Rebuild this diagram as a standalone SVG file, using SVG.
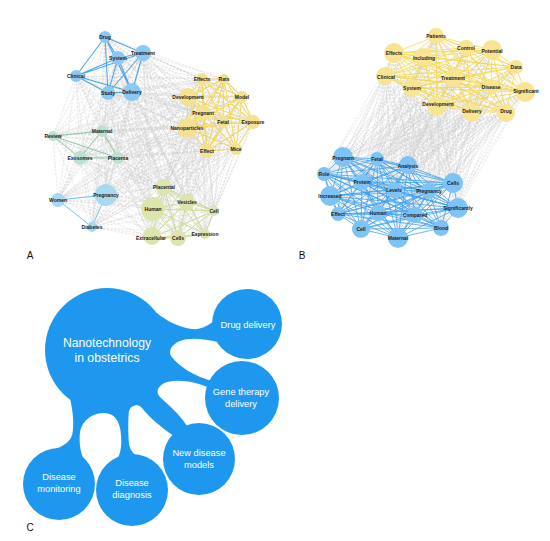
<svg xmlns="http://www.w3.org/2000/svg" width="550" height="541" viewBox="0 0 550 541">
<style>
.lbl{font-family:"Liberation Sans",Arial,Helvetica,sans-serif;font-weight:bold;font-size:5px;fill:#1a1a1a;text-anchor:middle}
.pl{font-family:"Liberation Sans",Arial,Helvetica,sans-serif;font-size:10px;fill:#111;text-anchor:middle}
.ct{font-family:"Liberation Sans",Arial,Helvetica,sans-serif;font-size:9.3px;fill:#fff;text-anchor:middle}
.cb{font-family:"Liberation Sans",Arial,Helvetica,sans-serif;font-size:12.2px;fill:#fff;text-anchor:middle}
.gry{fill:none;stroke:#bcbcbc;stroke-width:.45;stroke-dasharray:2.5 1.2;opacity:.75}
.eb{fill:none;stroke:#4ea7ec;stroke-width:1.1}
.ey{fill:none;stroke:#f3d85e;stroke-width:1.1}
.eg{fill:none;stroke:#8cc6a6;stroke-width:1}
.el{fill:none;stroke:#79c4e6;stroke-width:1}
.eo{fill:none;stroke:#cfdb92;stroke-width:1}
.eby{fill:none;stroke:#f5d649;stroke-width:.9;opacity:.85}
.ebb{fill:none;stroke:#3a9ff0;stroke-width:.9;opacity:.85}
.nb{fill:#8cc8f3}
.ny{fill:#f4e191}
.ng{fill:#bfe0cc}
.nl{fill:#a9d8ef}
.no{fill:#dde5ae}
.nby{fill:#f8e594}
.nbb{fill:#7ec3f5}
.blob{fill:#1e98ef}
</style>
<rect width="550" height="541" fill="#fff"/>
<g id="connectors">
<g id="a-gray" class="gry">
<path d="M105 37L202 79M105 37L224 79M105 37L188 97M105 37L242 97M105 37L203 113M105 37L223 122M105 37L253 122M105 37L187 128M105 37L207 151M105 37L236 149M105 37L53 136M105 37L102 131M105 37L80 158M105 37L118 158M105 37L58 200M105 37L106 195M105 37L92 227M105 37L164 187M105 37L187 202M105 37L153 209M105 37L214 211M105 37L151 238M105 37L178 238M105 37L205 234"/>
<path d="M118 58L202 79M118 58L224 79M118 58L188 97M118 58L242 97M118 58L203 113M118 58L223 122M118 58L253 122M118 58L187 128M118 58L207 151M118 58L236 149M118 58L53 136M118 58L102 131M118 58L80 158M118 58L118 158M118 58L58 200M118 58L106 195M118 58L92 227M118 58L164 187M118 58L187 202M118 58L153 209M118 58L214 211M118 58L151 238M118 58L178 238M118 58L205 234"/>
<path d="M143 53L202 79M143 53L224 79M143 53L188 97M143 53L242 97M143 53L203 113M143 53L223 122M143 53L253 122M143 53L187 128M143 53L207 151M143 53L236 149M143 53L53 136M143 53L102 131M143 53L80 158M143 53L118 158M143 53L58 200M143 53L106 195M143 53L92 227M143 53L164 187M143 53L187 202M143 53L153 209M143 53L214 211M143 53L151 238M143 53L178 238M143 53L205 234"/>
<path d="M76 76L202 79M76 76L224 79M76 76L188 97M76 76L242 97M76 76L203 113M76 76L223 122M76 76L253 122M76 76L187 128M76 76L207 151M76 76L236 149M76 76L53 136M76 76L102 131M76 76L80 158M76 76L118 158M76 76L58 200M76 76L106 195M76 76L92 227M76 76L164 187M76 76L187 202M76 76L153 209M76 76L214 211M76 76L151 238M76 76L178 238M76 76L205 234"/>
<path d="M108 93L202 79M108 93L224 79M108 93L188 97M108 93L242 97M108 93L203 113M108 93L223 122M108 93L253 122M108 93L187 128M108 93L207 151M108 93L236 149M108 93L53 136M108 93L102 131M108 93L80 158M108 93L118 158M108 93L58 200M108 93L106 195M108 93L92 227M108 93L164 187M108 93L187 202M108 93L153 209M108 93L214 211M108 93L151 238M108 93L178 238M108 93L205 234"/>
<path d="M132 92L202 79M132 92L224 79M132 92L188 97M132 92L242 97M132 92L203 113M132 92L223 122M132 92L253 122M132 92L187 128M132 92L207 151M132 92L236 149M132 92L53 136M132 92L102 131M132 92L80 158M132 92L118 158M132 92L58 200M132 92L106 195M132 92L92 227M132 92L164 187M132 92L187 202M132 92L153 209M132 92L214 211M132 92L151 238M132 92L178 238M132 92L205 234"/>
<path d="M202 79L53 136M202 79L102 131M202 79L80 158M202 79L118 158M202 79L58 200M202 79L106 195M202 79L92 227M202 79L164 187M202 79L187 202M202 79L153 209M202 79L214 211M202 79L151 238M202 79L178 238M202 79L205 234"/>
<path d="M224 79L53 136M224 79L102 131M224 79L80 158M224 79L118 158M224 79L58 200M224 79L106 195M224 79L92 227M224 79L164 187M224 79L187 202M224 79L153 209M224 79L214 211M224 79L151 238M224 79L178 238M224 79L205 234"/>
<path d="M188 97L53 136M188 97L102 131M188 97L80 158M188 97L118 158M188 97L58 200M188 97L106 195M188 97L92 227M188 97L164 187M188 97L187 202M188 97L153 209M188 97L214 211M188 97L151 238M188 97L178 238M188 97L205 234"/>
<path d="M242 97L53 136M242 97L102 131M242 97L80 158M242 97L118 158M242 97L58 200M242 97L106 195M242 97L92 227M242 97L164 187M242 97L187 202M242 97L153 209M242 97L214 211M242 97L151 238M242 97L178 238M242 97L205 234"/>
<path d="M203 113L53 136M203 113L102 131M203 113L80 158M203 113L118 158M203 113L58 200M203 113L106 195M203 113L92 227M203 113L164 187M203 113L187 202M203 113L153 209M203 113L214 211M203 113L151 238M203 113L178 238M203 113L205 234"/>
<path d="M223 122L53 136M223 122L102 131M223 122L80 158M223 122L118 158M223 122L58 200M223 122L106 195M223 122L92 227M223 122L164 187M223 122L187 202M223 122L153 209M223 122L214 211M223 122L151 238M223 122L178 238M223 122L205 234"/>
<path d="M253 122L53 136M253 122L102 131M253 122L80 158M253 122L118 158M253 122L58 200M253 122L106 195M253 122L92 227M253 122L164 187M253 122L187 202M253 122L153 209M253 122L214 211M253 122L151 238M253 122L178 238M253 122L205 234"/>
<path d="M187 128L53 136M187 128L102 131M187 128L80 158M187 128L118 158M187 128L58 200M187 128L106 195M187 128L92 227M187 128L164 187M187 128L187 202M187 128L153 209M187 128L214 211M187 128L151 238M187 128L178 238M187 128L205 234"/>
<path d="M207 151L53 136M207 151L102 131M207 151L80 158M207 151L118 158M207 151L58 200M207 151L106 195M207 151L92 227M207 151L164 187M207 151L187 202M207 151L153 209M207 151L214 211M207 151L151 238M207 151L178 238M207 151L205 234"/>
<path d="M236 149L53 136M236 149L102 131M236 149L80 158M236 149L118 158M236 149L58 200M236 149L106 195M236 149L92 227M236 149L164 187M236 149L187 202M236 149L153 209M236 149L214 211M236 149L151 238M236 149L178 238M236 149L205 234"/>
<path d="M53 136L58 200M53 136L106 195M53 136L92 227M53 136L164 187M53 136L187 202M53 136L153 209M53 136L214 211M53 136L151 238M53 136L178 238M53 136L205 234"/>
<path d="M102 131L58 200M102 131L106 195M102 131L92 227M102 131L164 187M102 131L187 202M102 131L153 209M102 131L214 211M102 131L151 238M102 131L178 238M102 131L205 234"/>
<path d="M80 158L58 200M80 158L106 195M80 158L92 227M80 158L164 187M80 158L187 202M80 158L153 209M80 158L214 211M80 158L151 238M80 158L178 238M80 158L205 234"/>
<path d="M118 158L58 200M118 158L106 195M118 158L92 227M118 158L164 187M118 158L187 202M118 158L153 209M118 158L214 211M118 158L151 238M118 158L178 238M118 158L205 234"/>
<path d="M58 200L164 187M58 200L187 202M58 200L153 209M58 200L214 211M58 200L151 238M58 200L178 238M58 200L205 234M106 195L164 187M106 195L187 202M106 195L153 209M106 195L214 211M106 195L151 238M106 195L178 238M106 195L205 234M92 227L164 187M92 227L187 202M92 227L153 209M92 227L214 211M92 227L151 238M92 227L178 238M92 227L205 234"/>
</g>
<g id="b-gray" class="gry">
<path d="M436 36L343 157M436 36L377 159M436 36L408 166M436 36L324 174M436 36L362 182M436 36L453 183M436 36L394 190M436 36L429 191M436 36L330 196M436 36L458 208M436 36L338 214M436 36L378 213M436 36L415 215M436 36L361 229M436 36L441 228M436 36L398 238"/>
<path d="M394 53L343 157M394 53L377 159M394 53L408 166M394 53L324 174M394 53L362 182M394 53L453 183M394 53L394 190M394 53L429 191M394 53L330 196M394 53L458 208M394 53L338 214M394 53L378 213M394 53L415 215M394 53L361 229M394 53L441 228M394 53L398 238"/>
<path d="M423 57L343 157M423 57L377 159M423 57L408 166M423 57L324 174M423 57L362 182M423 57L453 183M423 57L394 190M423 57L429 191M423 57L330 196M423 57L458 208M423 57L338 214M423 57L378 213M423 57L415 215M423 57L361 229M423 57L441 228M423 57L398 238"/>
<path d="M466 48L343 157M466 48L377 159M466 48L408 166M466 48L324 174M466 48L362 182M466 48L453 183M466 48L394 190M466 48L429 191M466 48L330 196M466 48L458 208M466 48L338 214M466 48L378 213M466 48L415 215M466 48L361 229M466 48L441 228M466 48L398 238"/>
<path d="M492 50L343 157M492 50L377 159M492 50L408 166M492 50L324 174M492 50L362 182M492 50L453 183M492 50L394 190M492 50L429 191M492 50L330 196M492 50L458 208M492 50L338 214M492 50L378 213M492 50L415 215M492 50L361 229M492 50L441 228M492 50L398 238"/>
<path d="M516 67L343 157M516 67L377 159M516 67L408 166M516 67L324 174M516 67L362 182M516 67L453 183M516 67L394 190M516 67L429 191M516 67L330 196M516 67L458 208M516 67L338 214M516 67L378 213M516 67L415 215M516 67L361 229M516 67L441 228M516 67L398 238"/>
<path d="M385 76L343 157M385 76L377 159M385 76L408 166M385 76L324 174M385 76L362 182M385 76L453 183M385 76L394 190M385 76L429 191M385 76L330 196M385 76L458 208M385 76L338 214M385 76L378 213M385 76L415 215M385 76L361 229M385 76L441 228M385 76L398 238"/>
<path d="M453 78L343 157M453 78L377 159M453 78L408 166M453 78L324 174M453 78L362 182M453 78L453 183M453 78L394 190M453 78L429 191M453 78L330 196M453 78L458 208M453 78L338 214M453 78L378 213M453 78L415 215M453 78L361 229M453 78L441 228M453 78L398 238"/>
<path d="M412 88L343 157M412 88L377 159M412 88L408 166M412 88L324 174M412 88L362 182M412 88L453 183M412 88L394 190M412 88L429 191M412 88L330 196M412 88L458 208M412 88L338 214M412 88L378 213M412 88L415 215M412 88L361 229M412 88L441 228M412 88L398 238"/>
<path d="M491 87L343 157M491 87L377 159M491 87L408 166M491 87L324 174M491 87L362 182M491 87L453 183M491 87L394 190M491 87L429 191M491 87L330 196M491 87L458 208M491 87L338 214M491 87L378 213M491 87L415 215M491 87L361 229M491 87L441 228M491 87L398 238"/>
<path d="M525 92L343 157M525 92L377 159M525 92L408 166M525 92L324 174M525 92L362 182M525 92L453 183M525 92L394 190M525 92L429 191M525 92L330 196M525 92L458 208M525 92L338 214M525 92L378 213M525 92L415 215M525 92L361 229M525 92L441 228M525 92L398 238"/>
<path d="M437 105L343 157M437 105L377 159M437 105L408 166M437 105L324 174M437 105L362 182M437 105L453 183M437 105L394 190M437 105L429 191M437 105L330 196M437 105L458 208M437 105L338 214M437 105L378 213M437 105L415 215M437 105L361 229M437 105L441 228M437 105L398 238"/>
<path d="M472 112L343 157M472 112L377 159M472 112L408 166M472 112L324 174M472 112L362 182M472 112L453 183M472 112L394 190M472 112L429 191M472 112L330 196M472 112L458 208M472 112L338 214M472 112L378 213M472 112L415 215M472 112L361 229M472 112L441 228M472 112L398 238"/>
<path d="M506 112L343 157M506 112L377 159M506 112L408 166M506 112L324 174M506 112L362 182M506 112L453 183M506 112L394 190M506 112L429 191M506 112L330 196M506 112L458 208M506 112L338 214M506 112L378 213M506 112L415 215M506 112L361 229M506 112L441 228M506 112L398 238"/>
</g>
<path id="a-edges-blue" class="eb" d="M105 37L118 58M105 37L143 53M105 37L76 76M105 37L108 93M105 37L132 92M118 58L143 53M118 58L76 76M118 58L108 93M118 58L132 92M143 53L76 76M143 53L108 93M143 53L132 92M76 76L108 93M76 76L132 92M108 93L132 92"/>
<path id="a-edges-yellow" class="ey" d="M202 79L224 79M202 79L188 97M202 79L242 97M202 79L203 113M202 79L223 122M202 79L253 122M202 79L187 128M202 79L207 151M202 79L236 149M224 79L188 97M224 79L242 97M224 79L203 113M224 79L223 122M224 79L253 122M224 79L187 128M224 79L207 151M224 79L236 149M188 97L242 97M188 97L203 113M188 97L223 122M188 97L253 122M188 97L187 128M188 97L207 151M188 97L236 149M242 97L203 113M242 97L223 122M242 97L253 122M242 97L187 128M242 97L207 151M242 97L236 149M203 113L223 122M203 113L253 122M203 113L187 128M203 113L207 151M203 113L236 149M223 122L253 122M223 122L187 128M223 122L207 151M223 122L236 149M253 122L187 128M253 122L207 151M253 122L236 149M187 128L207 151M187 128L236 149M207 151L236 149"/>
<path id="a-edges-green" class="eg" d="M53 136L102 131M53 136L80 158M53 136L118 158M102 131L80 158M102 131L118 158M80 158L118 158"/>
<path id="a-edges-lightblue" class="el" d="M58 200L106 195M58 200L92 227M106 195L92 227"/>
<path id="a-edges-olive" class="eo" d="M164 187L187 202M164 187L153 209M164 187L214 211M164 187L151 238M164 187L178 238M164 187L205 234M187 202L153 209M187 202L214 211M187 202L151 238M187 202L178 238M187 202L205 234M153 209L214 211M153 209L151 238M153 209L178 238M153 209L205 234M214 211L151 238M214 211L178 238M214 211L205 234M151 238L178 238M151 238L205 234M178 238L205 234"/>
<path id="b-edges-yellow" class="eby" d="M436 36L394 53M436 36L423 57M436 36L466 48M436 36L492 50M436 36L516 67M436 36L385 76M436 36L453 78M436 36L412 88M436 36L491 87M436 36L525 92M436 36L437 105M436 36L472 112M436 36L506 112M394 53L423 57M394 53L466 48M394 53L492 50M394 53L516 67M394 53L385 76M394 53L453 78M394 53L412 88M394 53L491 87M394 53L525 92M394 53L437 105M394 53L472 112M394 53L506 112M423 57L466 48M423 57L492 50M423 57L516 67M423 57L385 76M423 57L453 78M423 57L412 88M423 57L491 87M423 57L525 92M423 57L437 105M423 57L472 112M423 57L506 112M466 48L492 50M466 48L516 67M466 48L385 76M466 48L453 78M466 48L412 88M466 48L491 87M466 48L525 92M466 48L437 105M466 48L472 112M466 48L506 112M492 50L516 67M492 50L385 76M492 50L453 78M492 50L412 88M492 50L491 87M492 50L525 92M492 50L437 105M492 50L472 112M492 50L506 112M516 67L385 76M516 67L453 78M516 67L412 88M516 67L491 87M516 67L525 92M516 67L437 105M516 67L472 112M516 67L506 112M385 76L453 78M385 76L412 88M385 76L491 87M385 76L525 92M385 76L437 105M385 76L472 112M385 76L506 112M453 78L412 88M453 78L491 87M453 78L525 92M453 78L437 105M453 78L472 112M453 78L506 112M412 88L491 87M412 88L525 92M412 88L437 105M412 88L472 112M412 88L506 112M491 87L525 92M491 87L437 105M491 87L472 112M491 87L506 112M525 92L437 105M525 92L472 112M525 92L506 112M437 105L472 112M437 105L506 112M472 112L506 112"/>
<path id="b-edges-blue" class="ebb" d="M343 157L377 159M343 157L408 166M343 157L324 174M343 157L362 182M343 157L453 183M343 157L394 190M343 157L429 191M343 157L330 196M343 157L458 208M343 157L338 214M343 157L378 213M343 157L415 215M343 157L361 229M343 157L441 228M343 157L398 238M377 159L408 166M377 159L324 174M377 159L362 182M377 159L453 183M377 159L394 190M377 159L429 191M377 159L330 196M377 159L458 208M377 159L338 214M377 159L378 213M377 159L415 215M377 159L361 229M377 159L441 228M377 159L398 238M408 166L324 174M408 166L362 182M408 166L453 183M408 166L394 190M408 166L429 191M408 166L330 196M408 166L458 208M408 166L338 214M408 166L378 213M408 166L415 215M408 166L361 229M408 166L441 228M408 166L398 238M324 174L362 182M324 174L453 183M324 174L394 190M324 174L429 191M324 174L330 196M324 174L458 208M324 174L338 214M324 174L378 213M324 174L415 215M324 174L361 229M324 174L441 228M324 174L398 238M362 182L453 183M362 182L394 190M362 182L429 191M362 182L330 196M362 182L458 208M362 182L338 214M362 182L378 213M362 182L415 215M362 182L361 229M362 182L441 228M362 182L398 238M453 183L394 190M453 183L429 191M453 183L330 196M453 183L458 208M453 183L338 214M453 183L378 213M453 183L415 215M453 183L361 229M453 183L441 228M453 183L398 238M394 190L429 191M394 190L330 196M394 190L458 208M394 190L338 214M394 190L378 213M394 190L415 215M394 190L361 229M394 190L441 228M394 190L398 238M429 191L330 196M429 191L458 208M429 191L338 214M429 191L378 213M429 191L415 215M429 191L361 229M429 191L441 228M429 191L398 238M330 196L458 208M330 196L338 214M330 196L378 213M330 196L415 215M330 196L361 229M330 196L441 228M330 196L398 238M458 208L338 214M458 208L378 213M458 208L415 215M458 208L361 229M458 208L441 228M458 208L398 238M338 214L378 213M338 214L415 215M338 214L361 229M338 214L441 228M338 214L398 238M378 213L415 215M378 213L361 229M378 213L441 228M378 213L398 238M415 215L361 229M415 215L441 228M415 215L398 238M361 229L441 228M361 229L398 238M441 228L398 238"/>
</g>
<g id="panel-a-nodes">
<g id="a-drug"><circle class="nb" cx="105" cy="37" r="6"/><text class="lbl" x="105" y="38.8">Drug</text></g>
<g id="a-system"><circle class="nb" cx="118" cy="58" r="7"/><text class="lbl" x="118" y="59.8">System</text></g>
<g id="a-treatment"><circle class="nb" cx="143" cy="53" r="8"/><text class="lbl" x="143" y="54.8">Treatment</text></g>
<g id="a-clinical"><circle class="nb" cx="76" cy="76" r="6"/><text class="lbl" x="76" y="77.8">Clinical</text></g>
<g id="a-study"><circle class="nb" cx="108" cy="93" r="7"/><text class="lbl" x="108" y="94.8">Study</text></g>
<g id="a-delivery"><circle class="nb" cx="132" cy="92" r="9"/><text class="lbl" x="132" y="93.8">Delivery</text></g>
<g id="a-effects"><circle class="ny" cx="202" cy="79" r="6"/><text class="lbl" x="202" y="80.8">Effects</text></g>
<g id="a-rats"><circle class="ny" cx="224" cy="79" r="5"/><text class="lbl" x="224" y="80.8">Rats</text></g>
<g id="a-development"><circle class="ny" cx="188" cy="97" r="9"/><text class="lbl" x="188" y="98.8">Development</text></g>
<g id="a-model"><circle class="ny" cx="242" cy="97" r="6"/><text class="lbl" x="242" y="98.8">Model</text></g>
<g id="a-pregnant"><circle class="ny" cx="203" cy="113" r="8"/><text class="lbl" x="203" y="114.8">Pregnant</text></g>
<g id="a-fetal"><circle class="ny" cx="223" cy="122" r="6"/><text class="lbl" x="223" y="123.8">Fetal</text></g>
<g id="a-exposure"><circle class="ny" cx="253" cy="122" r="7"/><text class="lbl" x="253" y="123.8">Exposure</text></g>
<g id="a-nanoparticles"><circle class="ny" cx="187" cy="128" r="10"/><text class="lbl" x="187" y="129.8">Nanoparticles</text></g>
<g id="a-effect"><circle class="ny" cx="207" cy="151" r="7"/><text class="lbl" x="207" y="152.8">Effect</text></g>
<g id="a-mice"><circle class="ny" cx="236" cy="149" r="6"/><text class="lbl" x="236" y="150.8">Mice</text></g>
<g id="a-review"><circle class="ng" cx="53" cy="136" r="5"/><text class="lbl" x="53" y="137.8">Review</text></g>
<g id="a-maternal"><circle class="ng" cx="102" cy="131" r="6"/><text class="lbl" x="102" y="132.8">Maternal</text></g>
<g id="a-exosomes"><circle class="ng" cx="80" cy="158" r="7"/><text class="lbl" x="80" y="159.8">Exosomes</text></g>
<g id="a-placenta"><circle class="ng" cx="118" cy="158" r="6"/><text class="lbl" x="118" y="159.8">Placenta</text></g>
<g id="a-women"><circle class="nl" cx="58" cy="200" r="7"/><text class="lbl" x="58" y="201.8">Women</text></g>
<g id="a-pregnancy"><circle class="nl" cx="106" cy="195" r="11"/><text class="lbl" x="106" y="196.8">Pregnancy</text></g>
<g id="a-diabetes"><circle class="nl" cx="92" cy="227" r="5"/><text class="lbl" x="92" y="228.8">Diabetes</text></g>
<g id="a-placental"><circle class="no" cx="164" cy="187" r="8"/><text class="lbl" x="164" y="188.8">Placental</text></g>
<g id="a-vesicles"><circle class="no" cx="187" cy="202" r="8"/><text class="lbl" x="187" y="203.8">Vesicles</text></g>
<g id="a-human"><circle class="no" cx="153" cy="209" r="12"/><text class="lbl" x="153" y="210.8">Human</text></g>
<g id="a-cell"><circle class="no" cx="214" cy="211" r="5"/><text class="lbl" x="214" y="212.8">Cell</text></g>
<g id="a-extracellular"><circle class="no" cx="152" cy="236" r="9"/><text class="lbl" x="151" y="239.5">Extracellular</text></g>
<g id="a-cells"><circle class="no" cx="178" cy="238" r="8"/><text class="lbl" x="178" y="239.8">Cells</text></g>
<g id="a-expression"><circle class="no" cx="205" cy="234" r="5"/><text class="lbl" x="205" y="235.8">Expression</text></g>
</g>
<g id="panel-b-nodes">
<g id="b-patients"><circle class="nby" cx="436" cy="36" r="8"/><text class="lbl" x="436" y="37.8">Patients</text></g>
<g id="b-effects"><circle class="nby" cx="394" cy="53" r="10"/><text class="lbl" x="394" y="54.8">Effects</text></g>
<g id="b-including"><circle class="nby" cx="423" cy="57" r="9"/><text class="lbl" x="424" y="59.8">Including</text></g>
<g id="b-control"><circle class="nby" cx="466" cy="48" r="8"/><text class="lbl" x="466" y="49.8">Control</text></g>
<g id="b-potential"><circle class="nby" cx="492" cy="50" r="10"/><text class="lbl" x="492" y="53.3">Potential</text></g>
<g id="b-data"><circle class="nby" cx="516" cy="67" r="7"/><text class="lbl" x="516" y="68.8">Data</text></g>
<g id="b-clinical"><circle class="nby" cx="385" cy="76" r="9"/><text class="lbl" x="386" y="78.8">Clinical</text></g>
<g id="b-treatment"><circle class="nby" cx="453" cy="78" r="9"/><text class="lbl" x="453" y="79.8">Treatment</text></g>
<g id="b-system"><circle class="nby" cx="412" cy="88" r="9"/><text class="lbl" x="412" y="89.8">System</text></g>
<g id="b-disease"><circle class="nby" cx="491" cy="87" r="8"/><text class="lbl" x="491" y="88.8">Disease</text></g>
<g id="b-significant"><circle class="nby" cx="525" cy="92" r="10"/><text class="lbl" x="526" y="93.3">Significant</text></g>
<g id="b-development"><circle class="nby" cx="437" cy="106" r="10"/><text class="lbl" x="438" y="105.8">Development</text></g>
<g id="b-delivery"><circle class="nby" cx="472" cy="113" r="9"/><text class="lbl" x="472" y="113.3">Delivery</text></g>
<g id="b-drug"><circle class="nby" cx="506" cy="113" r="9"/><text class="lbl" x="506" y="112.8">Drug</text></g>
<g id="b-pregnant"><circle class="nbb" cx="343" cy="157" r="10"/><text class="lbl" x="343" y="159.8">Pregnant</text></g>
<g id="b-fetal"><circle class="nbb" cx="377" cy="159" r="7"/><text class="lbl" x="377" y="160.8">Fetal</text></g>
<g id="b-analysis"><circle class="nbb" cx="408" cy="165" r="9"/><text class="lbl" x="408" y="168.3">Analysis</text></g>
<g id="b-role"><circle class="nbb" cx="324" cy="174" r="7"/><text class="lbl" x="324" y="175.8">Role</text></g>
<g id="b-protein"><circle class="nbb" cx="362" cy="182" r="8"/><text class="lbl" x="362" y="183.8">Protein</text></g>
<g id="b-cells"><circle class="nbb" cx="453" cy="183" r="10"/><text class="lbl" x="453" y="184.8">Cells</text></g>
<g id="b-levels"><circle class="nbb" cx="394" cy="190" r="8"/><text class="lbl" x="394" y="191.8">Levels</text></g>
<g id="b-pregnancy"><circle class="nbb" cx="429" cy="191" r="8"/><text class="lbl" x="429" y="192.8">Pregnancy</text></g>
<g id="b-increased"><circle class="nbb" cx="330" cy="196" r="10"/><text class="lbl" x="330" y="197.8">Increased</text></g>
<g id="b-significantly"><circle class="nbb" cx="458" cy="208" r="10"/><text class="lbl" x="458" y="209.8">Significantly</text></g>
<g id="b-effect"><circle class="nbb" cx="338" cy="214" r="7"/><text class="lbl" x="338" y="215.8">Effect</text></g>
<g id="b-human"><circle class="nbb" cx="378" cy="213" r="8"/><text class="lbl" x="378" y="214.8">Human</text></g>
<g id="b-compared"><circle class="nbb" cx="415" cy="215" r="8"/><text class="lbl" x="415" y="216.8">Compared</text></g>
<g id="b-cell"><circle class="nbb" cx="361" cy="229" r="9"/><text class="lbl" x="361" y="230.8">Cell</text></g>
<g id="b-blood"><circle class="nbb" cx="441" cy="228" r="8"/><text class="lbl" x="441" y="229.8">Blood</text></g>
<g id="b-maternal"><circle class="nbb" cx="398" cy="238" r="10"/><text class="lbl" x="398" y="239.8">Maternal</text></g>
</g>
<g id="panel-labels">
<text class="pl" x="30" y="258.5">A</text>
<text class="pl" x="302" y="258.5">B</text>
<text class="pl" x="30" y="530.5">C</text>
</g>
<g id="panel-c">
<g id="c-necks"><path class="blob" d="M130 330L157 313C165 320 180 328 192 329C202 330 208 325 216 320L240 330L218 342C205 339 190 337 180 341C172 344 168 351 171 356C180 368 195 376 212 381L235 385L209 388C197 382 180 379 167 382C158 385 155 392 160 397C167 404 178 412 187 426L199 450L174 436C162 428 150 418 142 408C138 403 131 404 129 411C128 418 128 435 129 444C130 449 132 452 135 455L132 470L118 458C122 450 122 438 120 428C118 418 112 413 104 413C93 413 82 420 80 432C79 442 80 450 83 458L60 470L52 450C64 446 72 442 73 430C74 418 72 408 70 398Z"/></g>
<g id="c-main"><circle class="blob" cx="107" cy="350" r="62"/><text class="cb" x="107" y="347">Nanotechnology</text><text class="cb" x="107" y="362">in obstetrics</text></g>
<g id="c-drug-delivery"><circle class="blob" cx="247" cy="324" r="35"/><text class="ct" x="248" y="327.5">Drug delivery</text></g>
<g id="c-gene-therapy"><circle class="blob" cx="242" cy="398" r="37"/><text class="ct" x="241" y="395">Gene therapy</text><text class="ct" x="241" y="407">delivery</text></g>
<g id="c-new-models"><circle class="blob" cx="199" cy="459" r="36"/><text class="ct" x="199" y="456">New disease</text><text class="ct" x="199" y="468">models</text></g>
<g id="c-diagnosis"><circle class="blob" cx="132" cy="490" r="36"/><text class="ct" x="132" y="486">Disease</text><text class="ct" x="132" y="498">diagnosis</text></g>
<g id="c-monitoring"><circle class="blob" cx="59" cy="484" r="36"/><text class="ct" x="59" y="480">Disease</text><text class="ct" x="59" y="492">monitoring</text></g>
</g>
</svg>
